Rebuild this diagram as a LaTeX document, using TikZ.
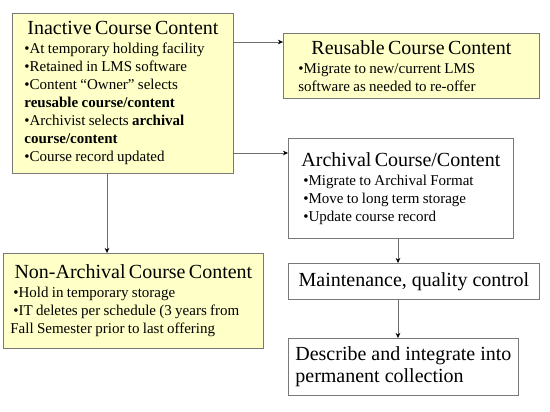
\documentclass[tikz,border=0pt]{standalone}
\usepackage{fontspec}
\setmainfont{Liberation Serif}
\usetikzlibrary{arrows.meta}
\definecolor{notepad}{RGB}{255,255,200}
\definecolor{rim}{RGB}{120,120,120}
\newcommand{\boxtitle}[1]{{\fontsize{20}{22}\selectfont\noindent\makebox[\linewidth]{#1}\par}\vspace{1pt}}
\newcommand{\bodysize}{\fontsize{15}{18}\selectfont}
\tikzset{
  stage/.style={draw=rim, thick, anchor=north west, inner sep=0pt},
  yellowstage/.style={stage, fill=notepad},
  flow/.style={draw=rim!90!black, -{Stealth[length=5pt,width=4.5pt,color=black]}}
}
\begin{document}
\begin{tikzpicture}[x=1pt,y=-1pt]
    \useasboundingbox (0,0) rectangle (550,412);
    \node[yellowstage, minimum width=221pt, minimum height=160pt, text width=197pt] (inactive) at (12,13)
        {\boxtitle{Inactive Course Content}
         \bodysize\raggedright
         •At temporary holding facility\\
         •Retained in LMS software\\
         •Content “Owner” selects\\
         \textbf{reusable course/content}\\
         •Archivist selects \textbf{archival}\\
         \textbf{course/content}\\
         •Course record updated\par};
    \node[yellowstage, minimum width=256pt, minimum height=65pt, text width=226pt] (reusable) at (283,33)
        {\boxtitle{Reusable Course Content}
         \bodysize\raggedright
         •Migrate to new/current LMS\\
         software as needed to re-offer\par};
    \node[stage, fill=white, minimum width=225pt, minimum height=100pt, text width=195pt] (archival) at (288,138)
        {\boxtitle{Archival Course/Content}
         \bodysize\raggedright
         •Migrate to Archival Format\\
         •Move to long term storage\\
         •Update course record\par};
    \node[yellowstage, minimum width=260pt, minimum height=95pt, text width=246pt] (nonarchival) at (3,253)
        {\boxtitle{Non-Archival Course Content}
         \bodysize\raggedright
         \hspace*{3pt}•Hold in temporary storage\\
         \hspace*{3pt}•IT deletes per schedule (3 years from\\
         Fall Semester prior to last offering\par};
    \node[stage, fill=white, minimum width=251pt, minimum height=36pt, font=\fontsize{20}{22}\selectfont] (maintenance) at (288,263)
        {Maintenance, quality control};
    \node[stage, fill=white, minimum width=230pt, minimum height=57pt, align=left, font=\fontsize{20}{22}\selectfont] (describe) at (288,338)
        {Describe and integrate into\\permanent collection};
    % connectors
    \draw[flow] (inactive.east |- 0,42) -- (reusable.west |- 0,42);
    \draw[flow] (inactive.east |- 0,153) -- (archival.west |- 0,153);
    \draw[flow] (inactive.south -| 107,0) -- (nonarchival.north -| 107,0);
    \draw[flow] (archival.south -| 398,0) -- (maintenance.north -| 398,0);
    \draw[flow] (maintenance.south -| 398,0) -- (describe.north -| 398,0);
\end{tikzpicture}
\end{document}
